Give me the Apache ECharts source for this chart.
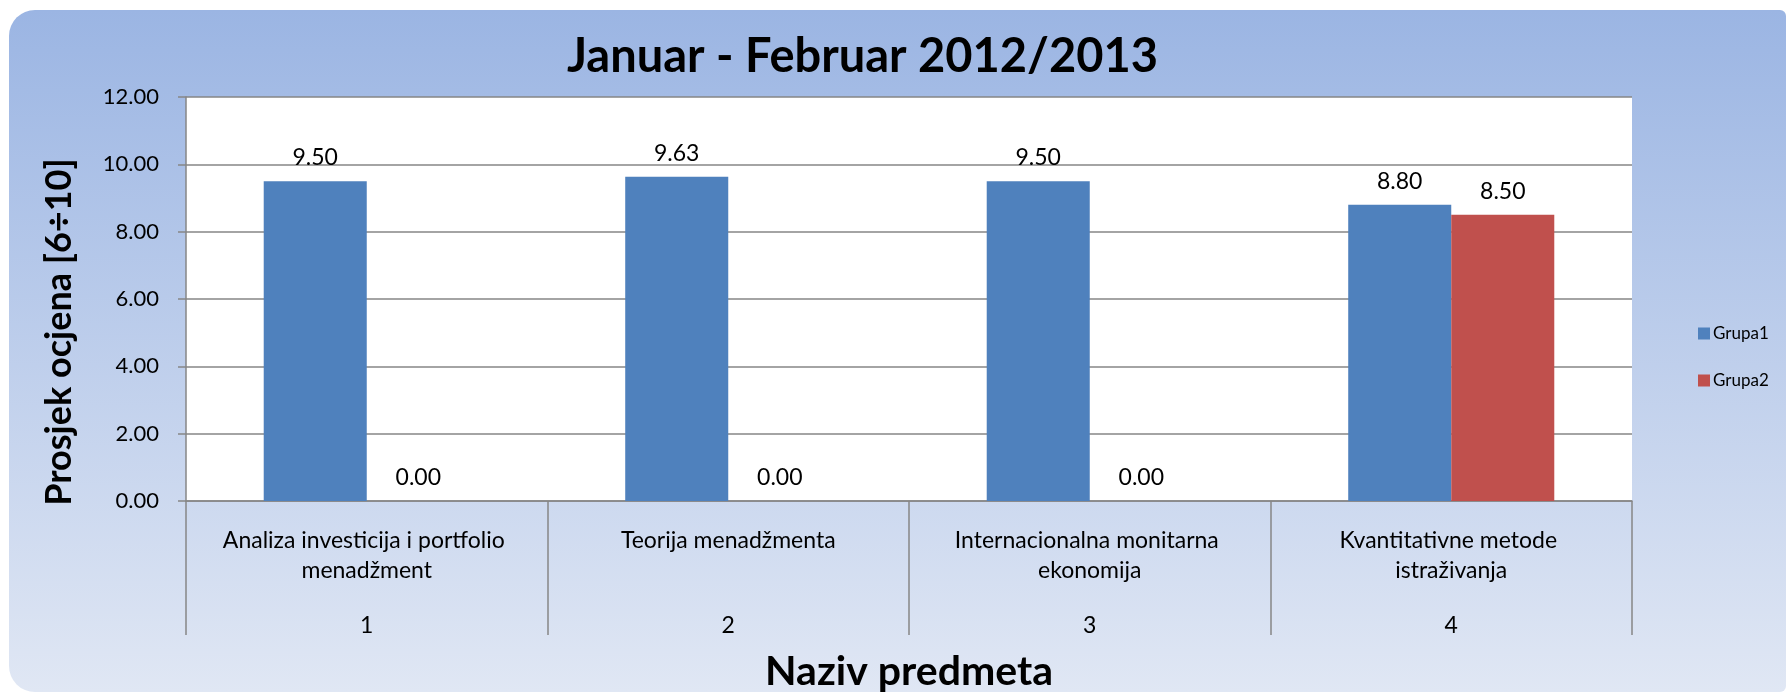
<!DOCTYPE html>
<html>
<head>
<meta charset="utf-8">
<script src="https://cdn.jsdelivr.net/npm/echarts@6/dist/echarts.min.js"></script>
<style>
html,body{margin:0;padding:0;background:#fff;}
#c{width:1787px;height:693px;}
</style>
</head>
<body>
<div id="c"></div>
<script>
const categories = ['Analiza investicija i portfolio menadžment', 'Teorija menadžmenta', 'Internacionalna monitarna ekonomija', 'Kvantitativne metode istraživanja'];
const categoryNumbers = ['1', '2', '3', '4'];
const grupa1 = [9.50, 9.63, 9.50, 8.80];
const grupa2 = [0.00, 0.00, 0.00, 8.50];
const seriesNames = ['Grupa1', 'Grupa2'];
const yTicks = { min: 0, max: 12, interval: 2 };

const FONT = 'Lato, "Open Sans", sans-serif';
const chart = echarts.init(document.getElementById('c'), null, { renderer: 'canvas' });

const labelStyle = {
  show: true, position: 'top', distance: 12,
  fontFamily: FONT, fontSize: 23, color: '#000',
  formatter: p => Number(p.value).toFixed(2)
};

chart.setOption({
  animation: false,
  backgroundColor: '#fff',
  graphic: [{
    type: 'rect', z: -10, silent: true,
    shape: { x: 9, y: 10, width: 1777, height: 682, r: [26, 6, 6, 26] },
    style: {
      fill: new echarts.graphic.LinearGradient(0, 0, 0, 1, [
        { offset: 0, color: '#9bb5e3' },
        { offset: 1, color: '#e0e7f4' }
      ])
    }
  }],
  title: {
    text: 'Januar - Februar 2012/2013',
    left: 562, top: 28,
    textStyle: { fontFamily: FONT, fontSize: 47, fontWeight: 'bold', color: '#000' }
  },
  legend: {
    data: seriesNames,
    orient: 'vertical',
    left: 1693, top: 320,
    itemWidth: 12, itemHeight: 12, itemGap: 30,
    icon: 'rect',
    textStyle: { fontFamily: FONT, fontSize: 17, color: '#000', padding: [0, 0, 0, -2] }
  },
  grid: {
    left: 186, right: 155, top: 97, bottom: 192,
    outerBoundsMode: 'none', containLabel: false,
    show: true, backgroundColor: '#fff', borderWidth: 0
  },
  xAxis: [{
    type: 'category',
    data: categories,
    name: 'Naziv predmeta',
    nameLocation: 'middle',
    nameGap: 150,
    nameTextStyle: { fontFamily: FONT, fontSize: 41, fontWeight: 'bold', color: '#000' },
    axisLine: { show: true, lineStyle: { color: '#868686', width: 1.5 } },
    axisTick: { show: true, interval: 0, length: 134, lineStyle: { color: '#868686', width: 1.5 } },
    axisLabel: {
      interval: 0, margin: 25,
      fontFamily: FONT, fontSize: 23, color: '#000', lineHeight: 30,
      width: 315, overflow: 'break', align: 'center'
    }
  }, {
    type: 'category',
    data: categoryNumbers,
    position: 'bottom',
    axisLine: { show: false },
    axisTick: { show: false },
    axisLabel: { interval: 0, margin: 110, fontFamily: FONT, fontSize: 23, color: '#000', lineHeight: 30 }
  }],
  yAxis: {
    type: 'value',
    min: yTicks.min, max: yTicks.max, interval: yTicks.interval,
    name: 'Prosjek ocjena [6÷10]',
    nameLocation: 'middle',
    nameGap: 109,
    nameTextStyle: { fontFamily: FONT, fontSize: 36, fontWeight: 'bold', color: '#000', padding: [0, 66, 0, 0] },
    axisLine: { show: true, lineStyle: { color: '#868686', width: 1.5 } },
    axisTick: { show: true, length: 8, lineStyle: { color: '#868686', width: 1.5 } },
    axisLabel: {
      margin: 27, fontFamily: FONT, fontSize: 22, color: '#000',
      formatter: v => v.toFixed(2)
    },
    splitLine: { show: true, lineStyle: { color: '#868686', width: 1.5 } }
  },
  series: [{
    name: seriesNames[0], type: 'bar', data: grupa1,
    itemStyle: { color: '#4f81bd' },
    barGap: '0%', barCategoryGap: '43%',
    label: labelStyle
  }, {
    name: seriesNames[1], type: 'bar', data: grupa2,
    itemStyle: { color: '#c0504d' },
    barGap: '0%', barCategoryGap: '43%',
    label: labelStyle
  }]
});
</script>
</body>
</html>
